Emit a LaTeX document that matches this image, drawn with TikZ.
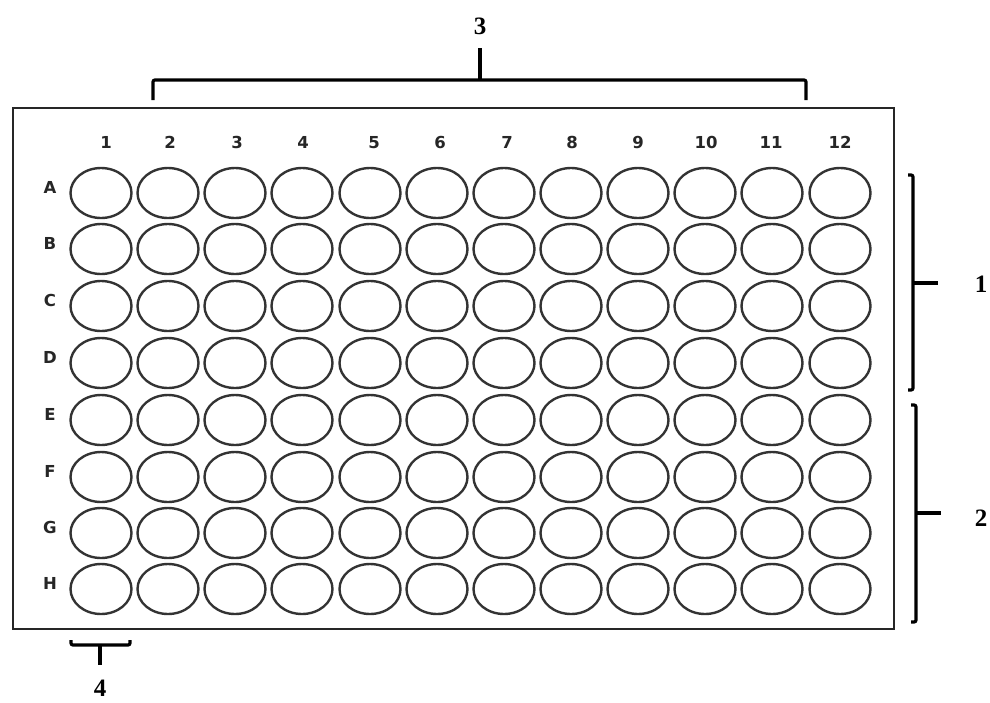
\documentclass[tikz,border=0pt]{standalone}
\usepackage{fontspec}
\setmainfont{Liberation Serif}
\newfontfamily\platefont{DejaVu Sans}
\usetikzlibrary{shapes.geometric}
\begin{document}
\begin{tikzpicture}[x=1pt,y=-1pt,
  well/.style={ellipse,draw=black!80,line width=2.4pt,minimum width=61pt,minimum height=50pt,inner sep=0pt},
  platelabel/.style={font=\platefont\bfseries\fontsize{16.5}{16.5}\selectfont,text=black!85,inner sep=0pt,anchor=base},
  outerlabel/.style={font=\bfseries\fontsize{25}{25}\selectfont,inner sep=0pt},
  bracketline/.style={line width=3.2pt,line cap=butt,rounded corners=2pt}]
\useasboundingbox (0,0) rectangle (990,702);
\node[draw=black!85,line width=2.2pt,minimum width=881pt,minimum height=521pt,inner sep=0pt,anchor=north west] (plate) at (12,107) {};
% column labels
\foreach \c/\x in {1/106,2/170,3/237,4/303,5/374,6/440,7/507,8/572,9/638,10/706,11/771,12/840}
  \node[platelabel] (col\c) at (\x,148) {\c};
% row labels and wells
\foreach \r/\y [count=\i] in {A/193,B/249,C/306,D/363,E/420,F/477,G/533,H/589}{
  \node[platelabel] (row\r) at (50,\y+0.5) {\r};
  \foreach \c/\x in {1/101,2/168,3/235,4/302,5/370,6/437,7/504,8/571,9/638,10/705,11/772,12/840}
    \node[well] (w\r\c) at (\x,\y) {};
}
% top brace (3)
\coordinate (t1) at (153,100);
\coordinate (t2) at (806,100);
\coordinate (tm) at (480,80);
\coordinate (tt) at (480,48);
\draw[bracketline] (t1) -- (153,80) -- (806,80) -- (t2);
\draw[bracketline] (tm) -- (tt);
\node[outerlabel] (lab3) at (480,26) {3};
% right bracket 1
\coordinate (r1a) at (908,175);
\coordinate (r1b) at (908,390);
\coordinate (r1m) at (913,283);
\coordinate (r1t) at (938,283);
\draw[bracketline] (r1a) -- (913,175) -- (913,390) -- (r1b);
\draw[bracketline] (r1m) -- (r1t);
\node[outerlabel] (lab1) at (981,284) {1};
% right bracket 2
\coordinate (r2a) at (911,405);
\coordinate (r2b) at (911,622);
\coordinate (r2m) at (916,513);
\coordinate (r2t) at (941,513);
\draw[bracketline] (r2a) -- (916,405) -- (916,622) -- (r2b);
\draw[bracketline] (r2m) -- (r2t);
\node[outerlabel] (lab2) at (981,518) {2};
% bottom bracket 4
\coordinate (b1) at (71,640);
\coordinate (b2) at (130,640);
\coordinate (bm) at (100,645);
\coordinate (bt) at (100,665);
\draw[bracketline] (b1) -- (71,645) -- (130,645) -- (b2);
\draw[bracketline] (bm) -- (bt);
\node[outerlabel] (lab4) at (100,688) {4};
\end{tikzpicture}
\end{document}
